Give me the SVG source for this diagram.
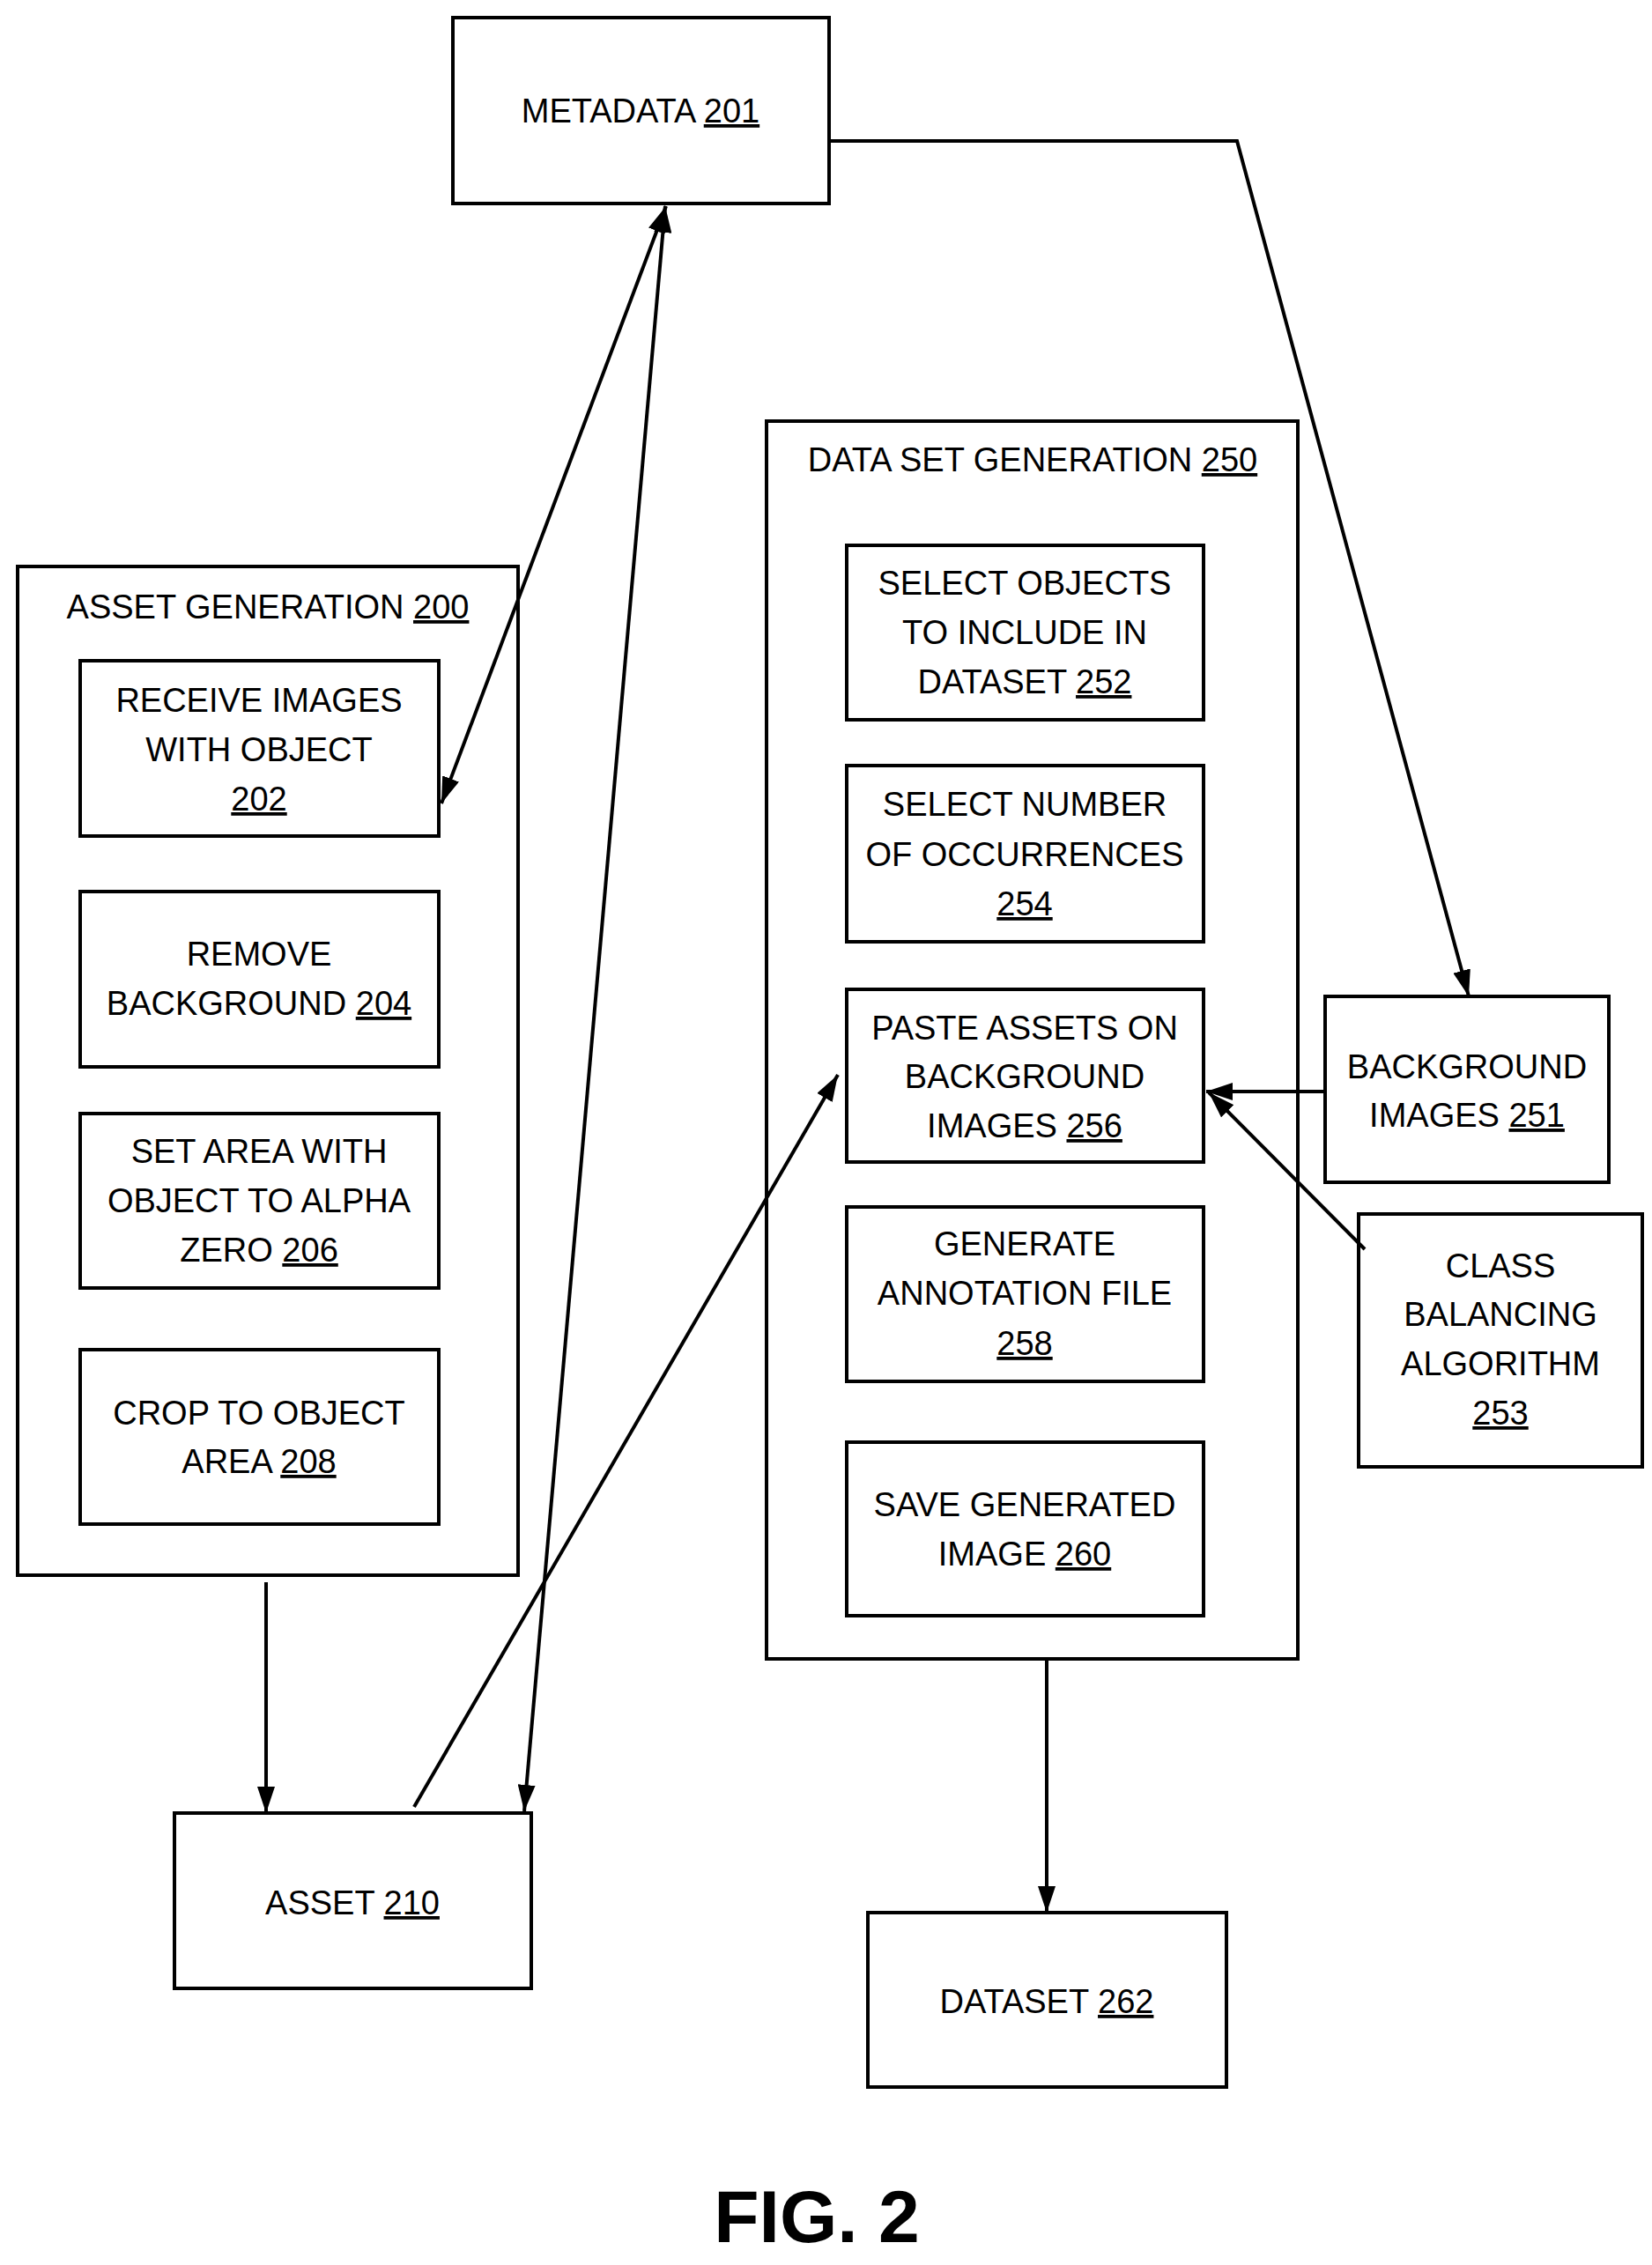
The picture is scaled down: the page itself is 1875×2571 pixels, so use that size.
<svg xmlns="http://www.w3.org/2000/svg" width="1875" height="2571" viewBox="0 0 1875 2571">
<style>
rect{fill:#fff;stroke:#000;stroke-width:4}
text{font-family:"Liberation Sans",Arial,sans-serif;font-size:38px;text-anchor:middle;fill:#000}
.u{text-decoration:underline}
.c{stroke:#000;stroke-width:4;fill:none}
</style>
<defs>
<marker id="a" viewBox="0 0 10 10" refX="10" refY="5" markerWidth="7" markerHeight="7" markerUnits="userSpaceOnUse" orient="auto-start-reverse" style="overflow:visible"><path d="M0,0 L10,5 L0,10 z" fill="#000" transform="scale(3)" transform-origin="10 5"/></marker>
<marker id="m" viewBox="0 0 30 20" refX="30" refY="10" markerWidth="30" markerHeight="20" markerUnits="userSpaceOnUse" orient="auto-start-reverse"><path d="M0,0 L30,10 L0,20 z" fill="#000"/></marker>
</defs>
<rect width="1875" height="2571" style="fill:#fff;stroke:none"/>
<g id="metadata"><rect x="514" y="20" width="427" height="211"/><text x="727" y="139">METADATA <tspan class="u">201</tspan></text></g>
<g id="asset-generation"><rect x="20" y="643" width="568" height="1145"/><text x="304" y="702">ASSET GENERATION <tspan class="u">200</tspan></text></g>
<g id="n202"><rect x="91" y="750" width="407" height="199"/><text x="294" y="808">RECEIVE IMAGES</text><text x="294" y="864">WITH OBJECT</text><text x="294" y="920" class="u">202</text></g>
<g id="n204"><rect x="91" y="1012" width="407" height="199"/><text x="294" y="1096">REMOVE</text><text x="294" y="1152">BACKGROUND <tspan class="u">204</tspan></text></g>
<g id="n206"><rect x="91" y="1264" width="407" height="198"/><text x="294" y="1320">SET AREA WITH</text><text x="294" y="1376">OBJECT TO ALPHA</text><text x="294" y="1432">ZERO <tspan class="u">206</tspan></text></g>
<g id="n208"><rect x="91" y="1532" width="407" height="198"/><text x="294" y="1617">CROP TO OBJECT</text><text x="294" y="1672">AREA <tspan class="u">208</tspan></text></g>
<g id="n210"><rect x="198" y="2058" width="405" height="199"/><text x="400" y="2173">ASSET <tspan class="u">210</tspan></text></g>
<g id="dataset-generation"><rect x="870" y="478" width="603" height="1405"/><text x="1172" y="535">DATA SET GENERATION <tspan class="u">250</tspan></text></g>
<g id="n252"><rect x="961" y="619" width="405" height="198"/><text x="1163" y="675">SELECT OBJECTS</text><text x="1163" y="731">TO INCLUDE IN</text><text x="1163" y="787">DATASET <tspan class="u">252</tspan></text></g>
<g id="n254"><rect x="961" y="869" width="405" height="200"/><text x="1163" y="926">SELECT NUMBER</text><text x="1163" y="983">OF OCCURRENCES</text><text x="1163" y="1039" class="u">254</text></g>
<g id="n256"><rect x="961" y="1123" width="405" height="196"/><text x="1163" y="1180">PASTE ASSETS ON</text><text x="1163" y="1235">BACKGROUND</text><text x="1163" y="1291">IMAGES <tspan class="u">256</tspan></text></g>
<g id="n258"><rect x="961" y="1370" width="405" height="198"/><text x="1163" y="1425">GENERATE</text><text x="1163" y="1481">ANNOTATION FILE</text><text x="1163" y="1538" class="u">258</text></g>
<g id="n260"><rect x="961" y="1637" width="405" height="197"/><text x="1163" y="1721">SAVE GENERATED</text><text x="1163" y="1777">IMAGE <tspan class="u">260</tspan></text></g>
<g id="n262"><rect x="985" y="2171" width="407" height="198"/><text x="1188" y="2285">DATASET <tspan class="u">262</tspan></text></g>
<g id="n251"><rect x="1504" y="1131" width="322" height="211"/><text x="1665" y="1224">BACKGROUND</text><text x="1665" y="1279">IMAGES <tspan class="u">251</tspan></text></g>
<g id="n253"><rect x="1542" y="1378" width="322" height="287"/><text x="1703" y="1450">CLASS</text><text x="1703" y="1505">BALANCING</text><text x="1703" y="1561">ALGORITHM</text><text x="1703" y="1617" class="u">253</text></g>
<g id="connectors">
<path class="c" d="M756,234 L501,912" marker-start="url(#m)" marker-end="url(#m)"/>
<path class="c" d="M755,234 L595,2056" marker-start="url(#m)" marker-end="url(#m)"/>
<path class="c" d="M941,160 L1404,160 L1667,1131" marker-end="url(#m)"/>
<path class="c" d="M302,1796 L302,2058" marker-end="url(#m)"/>
<path class="c" d="M470,2051 L951,1220" marker-end="url(#m)"/>
<path class="c" d="M1504,1239 L1369,1239" marker-end="url(#m)"/>
<path class="c" d="M1549,1418 L1372,1240" marker-end="url(#m)"/>
<path class="c" d="M1188,1883 L1188,2171" marker-end="url(#m)"/>
</g>
<text x="927" y="2545" style="font-size:84px;font-weight:bold">FIG. 2</text>
</svg>
